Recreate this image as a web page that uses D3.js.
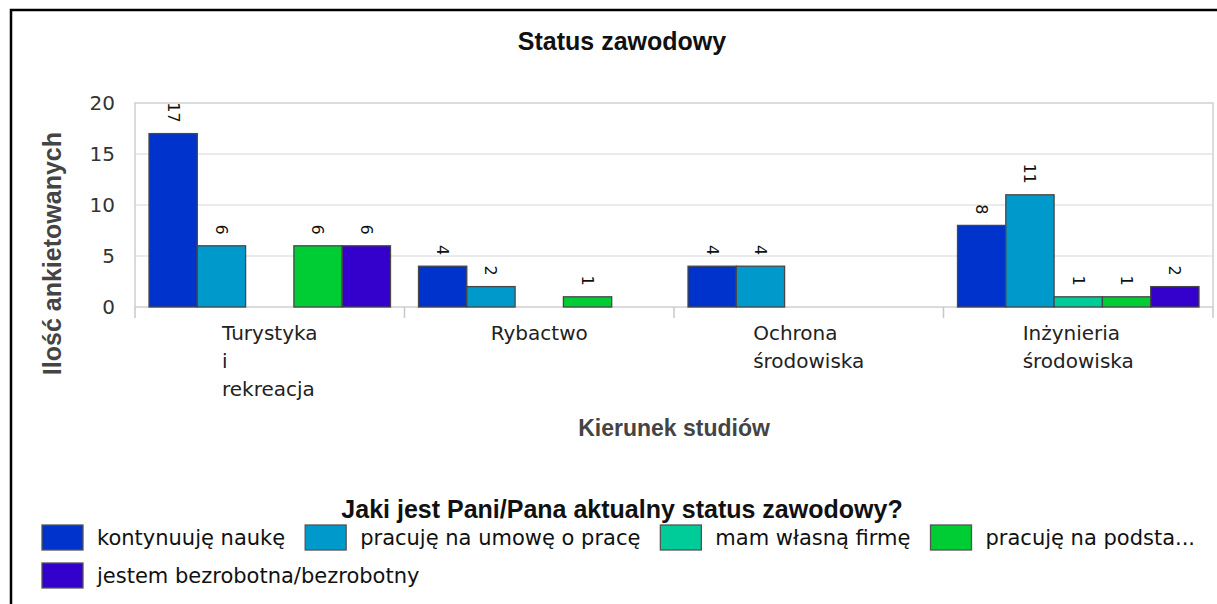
<!DOCTYPE html>
<html>
<head>
<meta charset="utf-8">
<script src="https://cdn.jsdelivr.net/npm/d3@7"></script>
<style>
  body { margin: 0; background: #fff; }
  svg { display: block; }
</style>
</head>
<body>
<script>
"use strict";

// data
var categories = ["Turystyka i rekreacja", "Rybactwo", "Ochrona środowiska", "Inżynieria środowiska"];
var seriesNames = ["kontynuuję naukę", "pracuję na umowę o pracę", "mam własną firmę", "pracuję na podsta...", "jestem bezrobotna/bezrobotny"];
var seriesColors = ["#0033cc", "#0099cc", "#00cc99", "#00cc33", "#3300cc"];
var kontynuuje = [17, 4, 4, 8];
var umowa = [6, 2, 4, 11];
var firma = [0, 0, 0, 1];
var podstawa = [6, 1, 0, 1];
var bezrobotny = [6, 0, 0, 2];
var yTicks = [0, 5, 10, 15, 20];

var seriesValues = [kontynuuje, umowa, firma, podstawa, bezrobotny];

var width = 1217;
var height = 604;

// plot area
var plotLeft = 135, plotRight = 1213, plotTop = 103, plotBottom = 307;
var centerX = 622;

var svg = d3.select("body").append("svg")
    .attr("width", width)
    .attr("height", height);

// outer border (runs off the right and bottom edge)
svg.append("rect")
    .attr("x", 11).attr("y", 10)
    .attr("width", 1300).attr("height", 700)
    .attr("fill", "#fff")
    .attr("stroke", "#000")
    .attr("stroke-width", 2.5);

var x0 = d3.scaleBand()
    .domain(categories)
    .range([plotLeft, plotRight]);

var x1 = d3.scaleBand()
    .domain(seriesNames)
    .range([0, x0.bandwidth()])
    .paddingOuter(0.29);

var y = d3.scaleLinear()
    .domain([0, 20])
    .range([plotBottom, plotTop]);

// grid
svg.append("g")
  .selectAll("line")
  .data(yTicks.filter(d => d > 0 && d < 20))
  .enter().append("line")
    .attr("x1", plotLeft).attr("x2", plotRight)
    .attr("y1", d => y(d)).attr("y2", d => y(d))
    .attr("stroke", "#e4e4e4")
    .attr("stroke-width", 1.5);

// plot outline
svg.append("rect")
    .attr("x", plotLeft).attr("y", plotTop)
    .attr("width", plotRight - plotLeft).attr("height", plotBottom - plotTop)
    .attr("fill", "none")
    .attr("stroke", "#d0d0d0")
    .attr("stroke-width", 1.5);

// y tick labels
svg.append("g")
  .selectAll("text")
  .data(yTicks)
  .enter().append("text")
    .attr("x", 115)
    .attr("y", d => y(d))
    .attr("dy", "0.36em")
    .attr("text-anchor", "end")
    .style("font", "20px 'DejaVu Sans'")
    .attr("fill", "#333")
    .text(d => d);

// category ticks under the axis
var edges = categories.map(c => x0(c)).concat([plotRight]);
svg.append("g")
  .selectAll("line")
  .data(edges)
  .enter().append("line")
    .attr("x1", d => d).attr("x2", d => d)
    .attr("y1", plotBottom).attr("y2", plotBottom + 11)
    .attr("stroke", "#c8c8c8")
    .attr("stroke-width", 1.5);

// bars
function cellsFor(c, ci) {
    return seriesNames
        .map((s, si) => ({s: s, i: si, v: seriesValues[si][ci]}))
        .filter(d => d.v > 0);
}

var groups = svg.append("g")
  .selectAll("g")
  .data(categories)
  .enter().append("g")
    .attr("transform", d => "translate(" + x0(d) + ",0)");

groups.selectAll("rect")
  .data(cellsFor)
  .enter().append("rect")
    .attr("x", d => x1(d.s))
    .attr("y", d => y(d.v))
    .attr("width", x1.bandwidth())
    .attr("height", d => plotBottom - y(d.v))
    .attr("fill", d => seriesColors[d.i])
    .attr("stroke", "#474747")
    .attr("stroke-width", 1.3);

// value labels, turned 90 degrees
groups.selectAll("text")
  .data(cellsFor)
  .enter().append("text")
    .attr("transform", d => "translate(" + (x1(d.s) + x1.bandwidth() / 2) + "," + (y(d.v) - 11) + ") rotate(90)")
    .attr("dy", "0.35em")
    .attr("text-anchor", "end")
    .style("font", "16px 'DejaVu Sans'")
    .attr("fill", "#111")
    .text(d => d.v);

// category labels, one word per line, left aligned in a centred block
var catLabels = svg.append("g")
  .selectAll("text")
  .data(categories)
  .enter().append("text")
    .style("font", "20px 'DejaVu Sans'")
    .attr("fill", "#222");

catLabels.each(function(c) {
    var t = d3.select(this);
    var words = c.split(" ");
    words.forEach(function(w, i) {
        t.append("tspan").attr("y", 340 + i * 28).text(w);
    });
    var maxW = 0;
    t.selectAll("tspan").each(function() {
        maxW = Math.max(maxW, this.getComputedTextLength());
    });
    var lx = x0(c) + x0.bandwidth() / 2 - maxW / 2;
    t.selectAll("tspan").attr("x", lx);
});

// titles
svg.append("text")
    .attr("x", centerX).attr("y", 50)
    .attr("text-anchor", "middle")
    .style("font", "bold 25px 'Liberation Sans'")
    .attr("fill", "#111")
    .text("Status zawodowy");

svg.append("text")
    .attr("transform", "translate(61,132) rotate(-90)")
    .attr("text-anchor", "end")
    .style("font", "bold 25px 'Liberation Sans'")
    .attr("fill", "#444")
    .text("Ilość ankietowanych");

svg.append("text")
    .attr("x", (plotLeft + plotRight) / 2).attr("y", 436)
    .attr("text-anchor", "middle")
    .style("font", "bold 23px 'Liberation Sans'")
    .attr("fill", "#444")
    .text("Kierunek studiów");

svg.append("text")
    .attr("x", centerX).attr("y", 518)
    .attr("text-anchor", "middle")
    .style("font", "bold 25px 'Liberation Sans'")
    .attr("fill", "#111")
    .text("Jaki jest Pani/Pana aktualny status zawodowy?");

// legend, flowing in rows
var legend = svg.append("g");
var lx = 42, ly = 525, rowH = 38, maxX = 1205;
seriesNames.forEach(function(name, i) {
    var item = legend.append("g");
    item.append("rect")
        .attr("width", 41).attr("height", 25)
        .attr("fill", seriesColors[i])
        .attr("stroke", "#555")
        .attr("stroke-width", 1.3);
    var txt = item.append("text")
        .attr("x", 55).attr("y", 12.5)
        .attr("dy", "0.35em")
        .style("font", "21px 'DejaVu Sans'")
        .attr("fill", "#111")
        .text(name);
    var w = 55 + txt.node().getComputedTextLength();
    if (lx + w > maxX) {
        lx = 42;
        ly += rowH;
    }
    item.attr("transform", "translate(" + lx + "," + ly + ")");
    lx += w + 20;
});
</script>
</body>
</html>
